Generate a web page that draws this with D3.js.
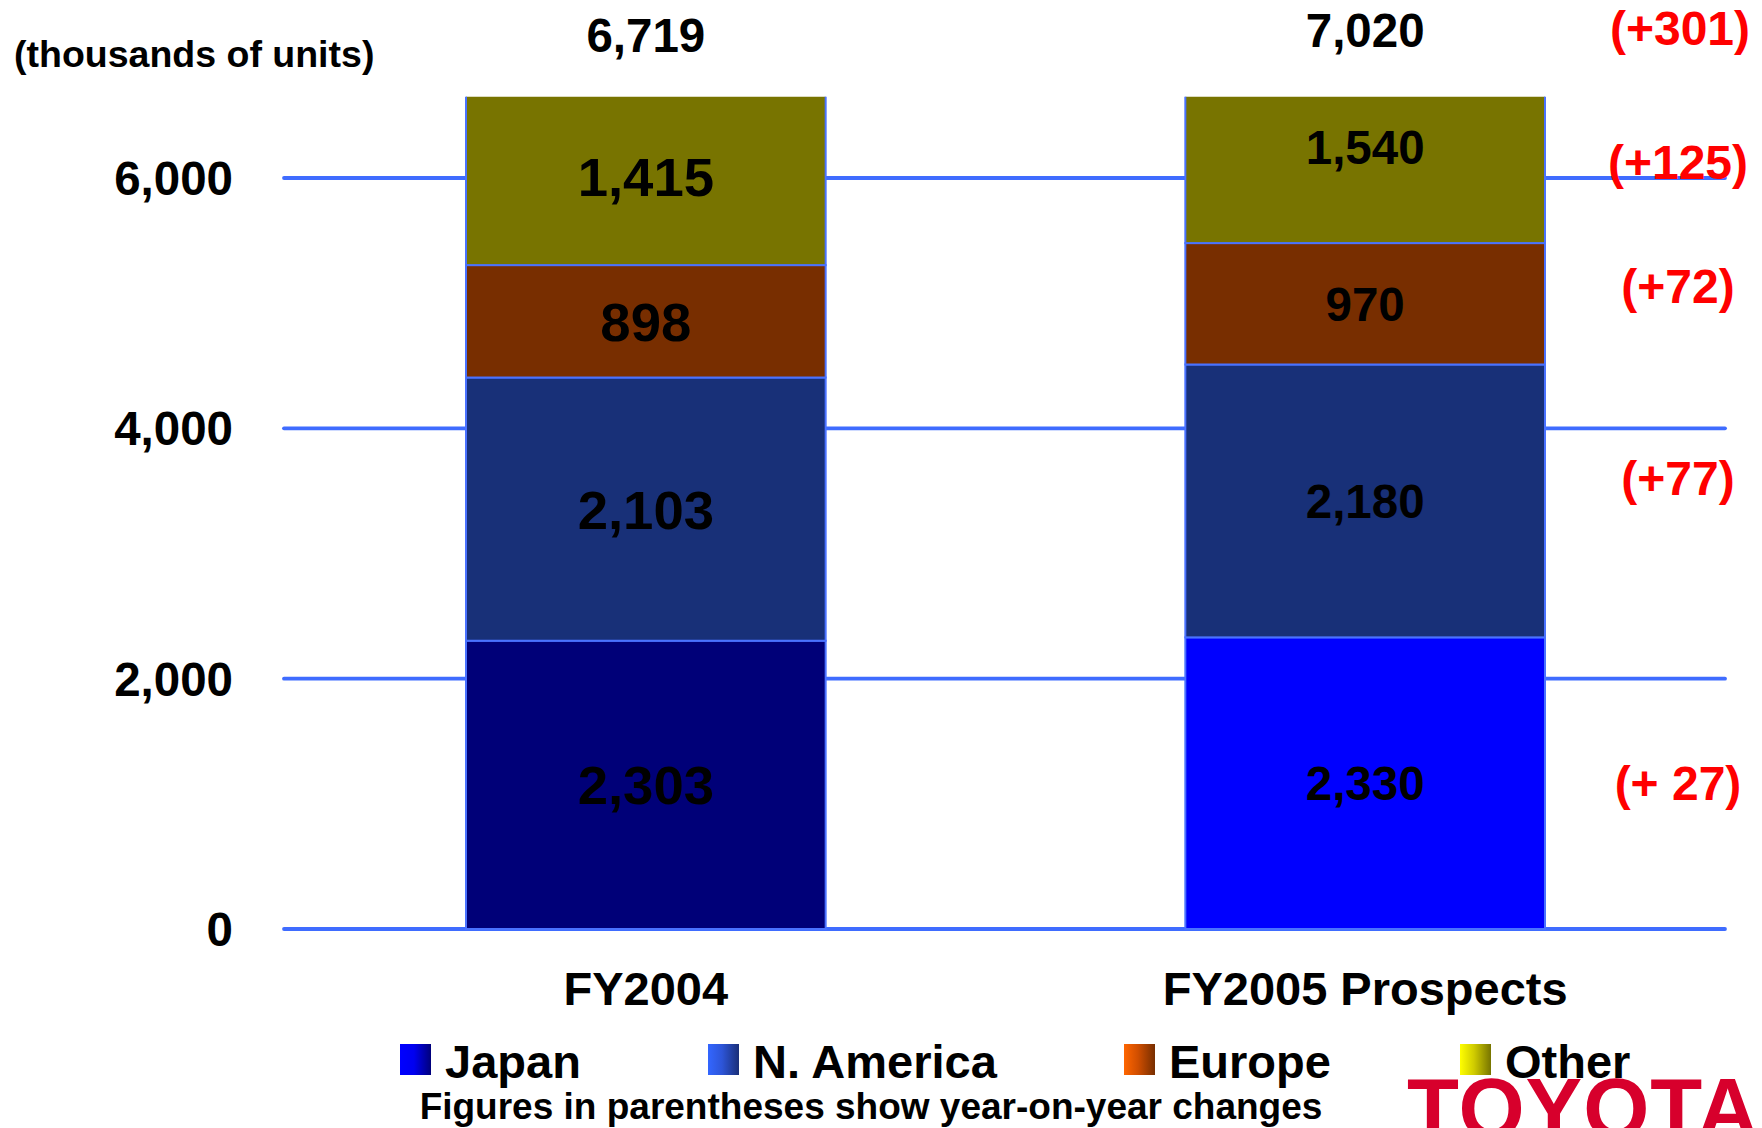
<!DOCTYPE html>
<html>
<head>
<meta charset="utf-8">
<script src="https://cdn.jsdelivr.net/npm/d3@7"></script>
<style>
  html, body { margin: 0; padding: 0; background: #ffffff; }
  svg { display: block; }
  text { font-family: "Liberation Sans", Arial, Helvetica, sans-serif; font-weight: bold; }
</style>
</head>
<body>
<svg id="chart" width="1762" height="1128"></svg>
<script>
// Toyota vehicle sales by region (thousands of units)
const categories = ["FY2004", "FY2005 Prospects"];
const regions = ["Japan", "N. America", "Europe", "Other"];
const fy2004 = [2303, 2103, 898, 1415];
const fy2005 = [2330, 2180, 970, 1540];
const regionChanges = ["(+ 27)", "(+77)", "(+72)", "(+125)"];
const totalChange = "(+301)";
const yTicks = [0, 2000, 4000, 6000];
const unitLabel = "(thousands of units)";
const footnote = "Figures in parentheses show year-on-year changes";

// fills per series; Japan differs between the two years
const fills2004 = ["#000078", "#183078", "#782e00", "#787400"];
const fills2005 = ["#0000ff", "#183078", "#782e00", "#787400"];
const legendGradients = [
  ["#0000ff", "#0000f0", "#00007a"],
  ["#3366ff", "#2d55d8", "#1a2f78"],
  ["#ff6600", "#d04e00", "#772e00"],
  ["#ffff00", "#d0cc00", "#777400"]
];

const svg = d3.select("#chart");
const fmt = d3.format(",");

const x = d3.scaleBand().domain(categories).range([466, 1545]).paddingInner(0.5).paddingOuter(0);
const y = d3.scaleLinear().domain([0, 6000]).range([929, 178]);
const yClipTop = y(6650);

// gradients for legend swatches
const defs = svg.append("defs");
legendGradients.forEach((stops, i) => {
  const g = defs.append("linearGradient").attr("id", "lg" + i)
    .attr("x1", "0%").attr("x2", "100%").attr("y1", "0%").attr("y2", "0%");
  g.append("stop").attr("offset", "0%").attr("stop-color", stops[0]);
  g.append("stop").attr("offset", "45%").attr("stop-color", stops[1]);
  g.append("stop").attr("offset", "100%").attr("stop-color", stops[2]);
});
defs.append("clipPath").attr("id", "plotClip")
  .append("rect").attr("x", 0).attr("y", yClipTop).attr("width", 1762).attr("height", 1128);

// horizontal gridlines
svg.append("g").selectAll("line").data(yTicks).join("line")
  .attr("x1", 284).attr("x2", 1725)
  .attr("y1", d => y(d)).attr("y2", d => y(d))
  .attr("stroke", "#3f6cff").attr("stroke-width", 3.8).attr("stroke-linecap", "round");

// y tick labels
svg.append("g").selectAll("text").data(yTicks).join("text")
  .attr("x", 233).attr("y", d => y(d)).attr("dy", "0.36em")
  .attr("text-anchor", "end").attr("font-size", 47.5).attr("fill", "#000")
  .text(d => fmt(d));

// stacked bars
const seriesByYear = [fy2004, fy2005];
const fillsByYear = [fills2004, fills2005];
const stacks = seriesByYear.map((vals, ci) => {
  let acc = 0;
  return vals.map((v, ri) => {
    const s = { cat: categories[ci], region: regions[ri], value: v, y0: acc, y1: acc + v, fill: fillsByYear[ci][ri], ci };
    acc += v;
    return s;
  });
});
const segs = stacks.flat();

const barG = svg.append("g").attr("clip-path", "url(#plotClip)");
barG.selectAll("rect").data(segs).join("rect")
  .attr("x", d => x(d.cat))
  .attr("width", x.bandwidth())
  .attr("y", d => y(d.y1))
  .attr("height", d => y(d.y0) - y(d.y1))
  .attr("fill", d => d.fill)
  .attr("stroke", "#4a72ff").attr("stroke-width", 2);

// values inside segments
const labelSizes = [54.5, 47.5];
svg.append("g").selectAll("text").data(segs).join("text")
  .attr("x", d => x(d.cat) + x.bandwidth() / 2)
  .attr("y", d => (y(d.y0) + y(d.y1)) / 2)
  .attr("dy", "0.36em")
  .attr("text-anchor", "middle")
  .attr("font-size", d => labelSizes[d.ci])
  .attr("fill", "#000")
  .text(d => fmt(d.value));

// totals above bars
const totals = seriesByYear.map(v => d3.sum(v));
const totalBaselines = [52, 47];
svg.append("g").selectAll("text").data(totals).join("text")
  .attr("x", (d, i) => x(categories[i]) + x.bandwidth() / 2)
  .attr("y", (d, i) => totalBaselines[i])
  .attr("text-anchor", "middle").attr("font-size", 47.5).attr("fill", "#000")
  .text(d => fmt(d));

// year-on-year changes, right of the chart
const changeX = 1678;
const changeOffsets = [0, -23, -18, 15];
svg.append("g").selectAll("text").data(stacks[1]).join("text")
  .attr("x", changeX)
  .attr("y", (d, i) => (y(d.y0) + y(d.y1)) / 2 + changeOffsets[i])
  .attr("dy", "0.36em")
  .attr("text-anchor", "middle").attr("font-size", 48).attr("fill", "#ff0000")
  .text((d, i) => regionChanges[i]);
svg.append("text")
  .attr("x", changeX + 2).attr("y", 45)
  .attr("text-anchor", "middle").attr("font-size", 48).attr("fill", "#ff0000")
  .text(totalChange);

// unit label
svg.append("text").attr("x", 14).attr("y", 67)
  .attr("font-size", 37.5).attr("fill", "#000").text(unitLabel);

// category labels
svg.append("g").selectAll("text").data(categories).join("text")
  .attr("x", d => x(d) + x.bandwidth() / 2).attr("y", 1005)
  .attr("text-anchor", "middle").attr("font-size", 47).attr("fill", "#000")
  .text(d => d);

// legend
const legendSwatchX = [400, 708, 1124, 1460];
const legendG = svg.append("g");
regions.forEach((r, i) => {
  legendG.append("rect").attr("x", legendSwatchX[i]).attr("y", 1044)
    .attr("width", 31).attr("height", 31).attr("fill", "url(#lg" + i + ")");
  legendG.append("text").attr("x", legendSwatchX[i] + 45).attr("y", 1078)
    .attr("font-size", 47).attr("fill", "#000").text(r);
});

// footnote
svg.append("text").attr("x", 871).attr("y", 1119)
  .attr("text-anchor", "middle").attr("font-size", 37).attr("fill", "#000")
  .text(footnote);

// corporate wordmark
svg.append("text").attr("x", 1407).attr("y", 1138)
  .attr("font-size", 85).attr("letter-spacing", 1).attr("fill", "#d7002c")
  .text("TOYOTA");
</script>
</body>
</html>
